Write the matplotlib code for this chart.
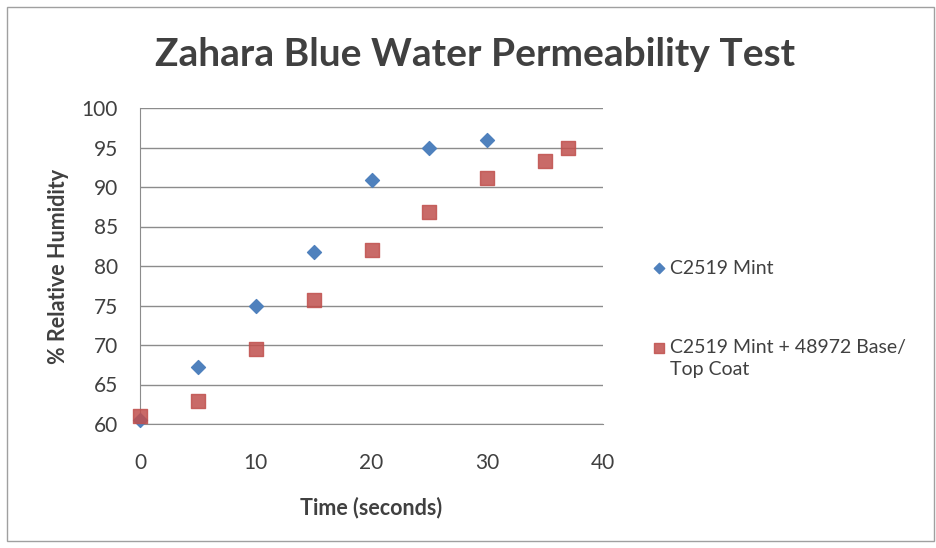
import matplotlib
matplotlib.use("Agg")
import matplotlib.pyplot as plt
from matplotlib.patches import Rectangle

time_mint = [0, 5, 10, 15, 20, 25, 30]
rh_mint = [60.5, 67.2, 75.0, 81.8, 90.9, 95.0, 96.0]
time_coat = [0, 5, 10, 15, 20, 25, 30, 35, 37]
rh_coat = [61.0, 62.9, 69.5, 75.7, 82.0, 86.8, 91.2, 93.3, 94.9]
label_mint = "C2519 Mint"
label_coat_l1 = "C2519 Mint + 48972 Base/"
label_coat_l2 = "Top Coat"
title = "Zahara Blue Water Permeability Test"
xlabel = "Time (seconds)"
ylabel = "% Relative Humidity"

plt.rcParams['font.family'] = ['Lato', 'DejaVu Sans']
TXT = '#404040'
W, H = 936, 548

fig = plt.figure(figsize=(W/100, H/100), dpi=100)
ax = fig.add_axes([140/W, 1-424/H, (603-140)/W, (424-108)/H])

ax.scatter(time_mint, rh_mint, marker='D', s=50, color='#4F81BD', edgecolors='#4F81BD',
           label=label_mint, zorder=3, clip_on=False)
ax.scatter(time_coat, rh_coat, marker='s', s=90, color='#C0504D', edgecolors='#C0504D',
           alpha=0.85, label=label_coat_l1, zorder=3, clip_on=False)

ax.set_xlim(0, 40)
ax.set_ylim(60, 100)
ax.set_xticks(range(0, 41, 10))
ax.set_yticks(range(60, 101, 5))
ax.yaxis.grid(True, color='#8c8c8c', linewidth=1)
ax.set_axisbelow(True)
for s in ['top', 'right']:
    ax.spines[s].set_visible(False)
ax.spines['left'].set_color('#8c8c8c')
ax.spines['bottom'].set_color('#8c8c8c')
ax.tick_params(axis='both', length=0, labelsize=15, colors=TXT)
ax.tick_params(axis='y', pad=16)
ax.tick_params(axis='x', pad=21)

ax.set_xlabel(xlabel, fontsize=15.5, fontweight='bold', color=TXT, labelpad=17)
ax.set_ylabel(ylabel, fontsize=15.5, fontweight='bold', color=TXT, labelpad=9)
fig.text(475/W, 1-55/H, title, fontsize=28, fontweight='bold', color=TXT, ha='center', va='center')

leg = fig.legend(loc='upper left', bbox_to_anchor=(632/W, 1-242/H), frameon=False,
                 fontsize=14, labelspacing=3.2, handletextpad=0.05, handlelength=1.0,
                 markerscale=0.75, labelcolor=TXT)

fig.canvas.draw()
bb = leg.get_texts()[1].get_window_extent()
fig.text(bb.x0/W, (bb.y0 - 22)/H, label_coat_l2, fontsize=14, color=TXT, ha='left', va='bottom')

fig.patches.append(Rectangle((7/W, 7/H), 927/W, 534/H, transform=fig.transFigure,
                             fill=False, edgecolor='#a0a0a0', linewidth=1))

fig.savefig("out.png", dpi=100)
